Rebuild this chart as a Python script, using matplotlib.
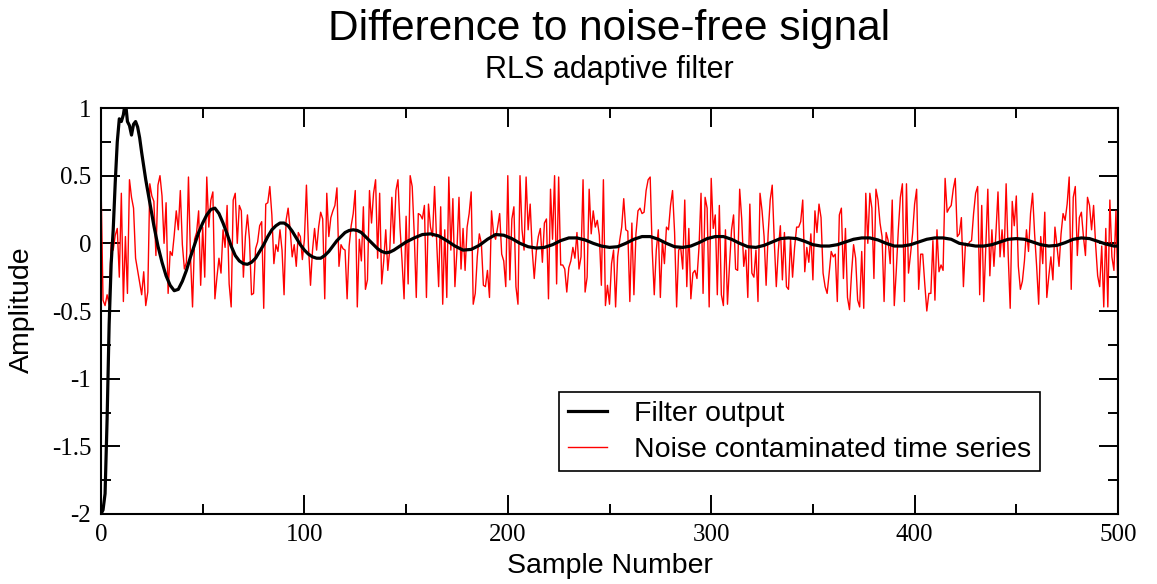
import numpy as np
import matplotlib
matplotlib.use('Agg')
import matplotlib.pyplot as plt
from matplotlib.ticker import MultipleLocator

plt.rcParams['axes.unicode_minus'] = False

# noise contaminated time series, samples 0..500
noise_series = [
    0.45, -0.42, -0.46, -0.38, -0.45, 0.0, -0.05, 0.06, 0.11, -0.25,
    0.37, -0.43, 0.05, -0.37, 0.47, 0.34, 0.26, -0.11, -0.2, -0.29,
    -0.38, -0.21, -0.46, -0.36, 0.44, 0.35, 0.31, -0.09, 0.43, 0.5,
    0.35, 0.0, 0.3, -0.37, -0.06, -0.09, 0.06, 0.24, 0.1, 0.39,
    -0.01, -0.19, -0.14, 0.49, -0.1, -0.47, 0.03, 0.08, 0.24, -0.31,
    0.12,
    -0.25, 0.49, 0.12, 0.32, 0.38, -0.41, -0.25, -0.11, -0.22, 0.1,
    -0.03, 0.28, -0.3, -0.47, 0.32, 0.37, 0.0, 0.28, 0.24, -0.25,
    0.05, 0.21, 0.03, -0.38, -0.37, -0.04, 0.01, 0.13, 0.16, -0.48,
    0.29, 0.3, 0.42, 0.21, -0.15, -0.01, -0.06, 0.1, -0.05, -0.38,
    0.17, 0.26, 0.1, -0.1, -0.01, -0.17, 0.08, 0.05, -0.12, 0.03,
    0.43, -0.02, -0.31, -0.05, 0.11, -0.05, 0.12, 0.23, 0.18, -0.41,
    0.37, 0.05, 0.19, 0.24, 0.28, 0.41, -0.17, -0.01, -0.04, -0.05,
    -0.41, -0.02, 0.13, 0.22, 0.39, -0.47, 0.03, -0.13, 0.27, -0.34,
    -0.27, 0.39, 0.15, 0.37, 0.47, -0.11, 0.37, -0.3, -0.13, 0.1,
    -0.2, -0.04, 0.34, 0.0, 0.39, 0.47, 0.12, -0.13, -0.41, 0.2,
    -0.3, 0.5, 0.42, 0.07, -0.4, 0.22, 0.21, 0.18, 0.28, -0.4,
    0.29, 0.12, 0.05, 0.42, 0.02, -0.32, 0.27, -0.45, 0.1, -0.4,
    0.49, -0.05, 0.33, -0.32, -0.05, 0.34, -0.19, 0.11, -0.2, 0.12,
    0.22, 0.38, -0.45, -0.37, -0.1, 0.07, 0.0, -0.31, -0.32, -0.2,
    -0.4, 0.24, 0.07, 0.03, 0.12, 0.22, -0.08, -0.13, -0.32, 0.5,
    -0.27, 0.18, 0.27, -0.32, -0.45, 0.5, 0.1, -0.05, 0.49, 0.1,
    0.29, -0.05, -0.26, -0.06, 0.05, 0.11, -0.14, 0.15, 0.18, -0.41,
    0.4, 0.03, 0.5, -0.3, 0.49, -0.16, -0.16, -0.19, -0.36, -0.18,
    -0.13, -0.03, -0.11, 0.08, -0.19, -0.1, 0.47, -0.36, -0.25, 0.4,
    0.07, 0.24, 0.12, 0.17, 0.06, -0.31, 0.47, -0.46, -0.31, -0.45,
    -0.15, -0.05, -0.47, -0.1, 0.02, 0.12, 0.33, 0.1, 0.09, -0.43,
    0.15, -0.38, 0.07, 0.24, 0.26, 0.22, 0.23, 0.39, 0.47, 0.49,
    -0.05, -0.38, -0.05, 0.1, -0.4, 0.02, -0.15, 0.12, 0.1, 0.28,
    0.39, 0.08, -0.47, -0.05, -0.03, -0.19, 0.32, -0.32, 0.11, -0.41,
    -0.22, -0.2, -0.26, -0.03, 0.37, -0.37, 0.34, 0.26, -0.47, 0.48,
    0.11, 0.21, -0.38, 0.28, -0.38, -0.46, 0.1, -0.45, -0.16, 0.1,
    0.21, -0.19, -0.2, 0.4, 0.18, -0.17, -0.05, -0.4, 0.29, -0.22,
    -0.25, -0.05, -0.43, 0.37, 0.24, 0.05, -0.31, 0.07, 0.32, 0.43,
    0.02, -0.32, -0.05, 0.13, -0.27, 0.08, -0.32, -0.34, 0.03, -0.25,
    -0.03, 0.12, 0.12, 0.16, 0.32, -0.21, -0.03, -0.14, 0.07, -0.27,
    0.24, 0.08, 0.29, 0.19, -0.22, -0.32, -0.37, -0.22, -0.06, -0.1,
    -0.08, -0.43, 0.21, 0.26, -0.26, 0.11, -0.4, -0.49, -0.22, -0.01,
    -0.11, -0.42, -0.47, -0.06, -0.48, 0.37, 0.0, 0.37, 0.26, -0.26,
    0.4, 0.32, 0.15, 0.05, -0.43, 0.08, 0.02, -0.15, 0.32, -0.46,
    -0.2, 0.1, 0.34, 0.44, -0.43, 0.44, -0.22, -0.08, 0.07, 0.29,
    0.4, -0.34, -0.08, -0.08, -0.3, -0.5, -0.37, -0.37, 0.02, -0.42,
    0.1, -0.21, -0.16, -0.2, 0.48, 0.23, 0.26, 0.28, 0.4, 0.48,
    0.05, 0.07, 0.19, -0.32, 0.0, -0.02, 0.01, 0.02, 0.22, 0.37,
    0.42, -0.38, 0.28, -0.43, -0.03, 0.4, -0.24, 0.1, -0.17, 0.08,
    0.38, -0.1, 0.1, -0.1, 0.44, -0.08, -0.48, 0.31, 0.13, 0.35,
    -0.17, -0.34, -0.28, -0.13, 0.1, -0.06, 0.22, 0.37, 0.07, -0.17,
    -0.45, 0.05, -0.15, 0.23, -0.4, -0.24, -0.1, -0.27, 0.12, -0.02,
    -0.17, 0.07, 0.22, 0.17, 0.29, 0.49, -0.34, 0.34, 0.42, -0.09,
    0.19, 0.23, 0.05, -0.09, 0.34, 0.28, 0.1, 0.28, -0.01, -0.24,
    -0.32, -0.02, -0.47, 0.11, -0.47, 0.32, -0.1, -0.2, 0.24, -0.37,
]

# filter output, sampled at these sample numbers
filter_x = [0, 1, 2, 3, 4, 5, 6, 7, 8, 9, 10, 11, 12, 13, 14, 15, 16, 17, 18,
            19, 20, 21, 22, 24, 26, 28, 30, 32, 34, 36, 38, 40, 42, 44, 46,
            48, 50, 52, 54, 56, 58, 60, 62, 64, 66, 68, 70, 72, 74, 76, 78,
            80, 82, 84, 86, 88, 90, 92, 94, 96, 98, 100, 102, 104, 106, 108,
            110, 112, 114, 116, 118, 120, 122, 124, 126, 128, 130, 132, 134,
            136, 138, 140, 142, 144, 146, 148, 150, 154, 158, 162, 166, 170,
            174, 178, 182, 186, 190, 194, 198, 202, 206, 210, 214, 218, 222,
            226, 230, 234, 238, 242, 246, 250, 254, 258, 262, 266, 270, 274,
            278, 282, 286, 290, 294, 298, 302, 306, 310, 314, 318, 322, 326,
            330, 334, 338, 342, 346, 350, 354, 358, 362, 366, 370, 374, 378,
            382, 386, 390, 394, 398, 402, 406, 410, 414, 418, 422, 426, 430,
            434, 438, 442, 446, 450, 454, 458, 462, 466, 470, 474, 478, 482,
            486, 490, 494, 498, 500]
filter_y = [-2.0, -1.97, -1.85, -1.3, -0.6, -0.15, 0.1, 0.45, 0.75, 0.92,
            0.9, 0.95, 1.05, 0.9, 0.87, 0.8, 0.88, 0.9, 0.86, 0.78,
            0.67, 0.57, 0.47, 0.3, 0.13, -0.02, -0.14, -0.24, -0.31, -0.35,
            -0.34, -0.28, -0.2, -0.1, -0.01, 0.08, 0.15, 0.21, 0.25, 0.26,
            0.22, 0.15, 0.07, -0.02, -0.09, -0.13, -0.15, -0.155, -0.14, -0.11,
            -0.06, -0.01, 0.05, 0.1, 0.13, 0.15, 0.15, 0.13, 0.09, 0.04,
            -0.01, -0.05, -0.08, -0.1, -0.11, -0.11, -0.09, -0.06, -0.02, 0.02,
            0.05, 0.08, 0.095, 0.1, 0.095, 0.08, 0.05, 0.02, -0.01, -0.04,
            -0.06, -0.07, -0.065, -0.05, -0.03, -0.01, 0.01, 0.04, 0.065, 0.07,
            0.055, 0.02, -0.02, -0.05, -0.045, -0.015, 0.03, 0.065, 0.06, 0.035,
            0.0, -0.025, -0.035, -0.03, -0.01, 0.02, 0.04, 0.04, 0.025, 0.0,
            -0.02, -0.03, -0.025, 0.0, 0.03, 0.05, 0.05, 0.03, 0.0, -0.025,
            -0.03, -0.02, 0.005, 0.035, 0.05, 0.05, 0.03, 0.0, -0.025, -0.03,
            -0.015, 0.01, 0.035, 0.04, 0.035, 0.015, -0.01, -0.02, -0.02, -0.01,
            0.01, 0.03, 0.04, 0.04, 0.025, 0.0, -0.02, -0.02, -0.01, 0.01,
            0.03, 0.04, 0.04, 0.03, 0.0, -0.01, -0.02, -0.02, -0.01, 0.01,
            0.03, 0.035, 0.03, 0.01, -0.01, -0.02, -0.015, 0.005, 0.03, 0.04,
            0.035, 0.015, -0.005, -0.02, -0.02]

x_ticks = [0, 100, 200, 300, 400, 500]
y_ticks = [-2, -1.5, -1, -0.5, 0, 0.5, 1]
y_tick_labels = ['-2', '-1.5', '-1', '-0.5', '0', '0.5', '1']

sans = 'Liberation Sans'
serif = 'Liberation Serif'

fig = plt.figure(figsize=(11.57, 5.84), dpi=100)
ax = fig.add_axes([101 / 1157, 1 - 514 / 584, 1017 / 1157, 406 / 584])

sample = np.arange(len(noise_series))
ax.plot(filter_x, filter_y, color='black', lw=2.3, label='Filter output', zorder=3)
ax.plot(sample, noise_series, color='red', lw=1.0,
        label='Noise contaminated time series', zorder=2)

ax.set_xlim(0, 500)
ax.set_ylim(-2, 1)
ax.set_xticks(x_ticks)
ax.set_xticklabels([str(t) for t in x_ticks])
ax.set_yticks(y_ticks)
ax.set_yticklabels(y_tick_labels)
ax.xaxis.set_minor_locator(MultipleLocator(50))
ax.yaxis.set_minor_locator(MultipleLocator(0.25))

ax.tick_params(which='both', direction='in', top=True, right=True, width=1.4,
               labelsize=18)
ax.tick_params(which='major', length=14)
ax.tick_params(which='minor', length=7)
ax.tick_params(axis='x', pad=7)
ax.tick_params(axis='y', pad=7)
for lab in ax.get_xticklabels() + ax.get_yticklabels():
    lab.set_family(serif)
for sp in ax.spines.values():
    sp.set_linewidth(1.5)

cx = (101 + 1118) / 2 / 1157
fig.text(cx, 1 - 40 / 584, 'Difference to noise-free signal', ha='center',
         va='baseline', fontsize=30.5, family=sans)
fig.text(cx, 1 - 78 / 584, 'RLS adaptive filter', ha='center',
         va='baseline', fontsize=22, family=sans)
fig.text(cx, 1 - 573 / 584, 'Sample Number', ha='center', va='baseline',
         fontsize=20.5, family=sans)
fig.text(22 / 1157, 1 - 310 / 584, 'Amplitude', ha='center', va='center',
         rotation=90, fontsize=20.5, family=sans)

leg = ax.legend(loc='upper left', bbox_to_anchor=((559 - 101) / 1017, (514 - 392) / 406),
                prop={'family': sans, 'size': 20.5}, frameon=True, fancybox=False,
                framealpha=1, handlelength=1.4, handletextpad=0.95,
                labelspacing=0.36, borderpad=0.3, borderaxespad=0)
leg.get_frame().set_edgecolor('black')
leg.get_frame().set_linewidth(1.2)

fig.savefig('out.png', dpi=100)
